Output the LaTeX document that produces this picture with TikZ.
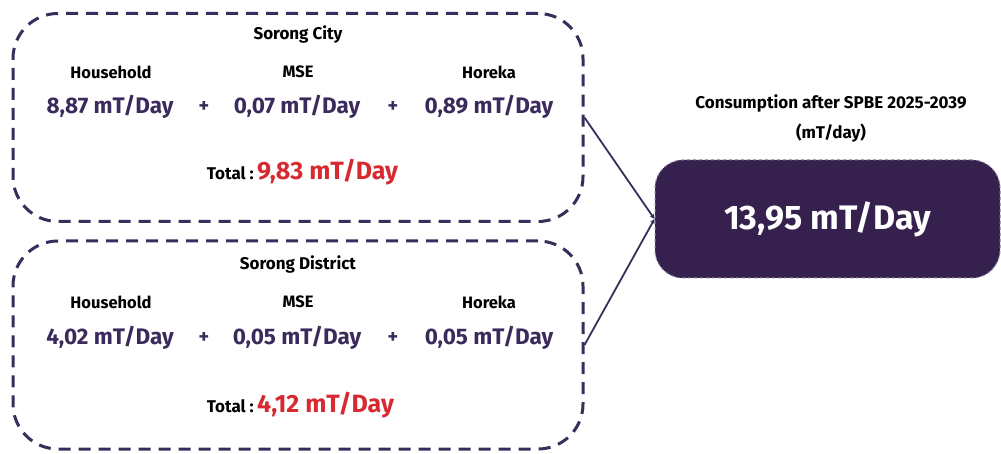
\documentclass[tikz,border=0pt]{standalone}
\usepackage{fontspec}
\setmainfont{Fira Sans}
\usetikzlibrary{arrows.meta}
\definecolor{ink}{HTML}{3B2B5C}
\definecolor{boxline}{HTML}{3A2D5C}
\definecolor{boxfill}{HTML}{35204E}
\definecolor{tot}{HTML}{D62A30}
\begin{document}
\begin{tikzpicture}[x=1pt,y=-1pt,
  group/.style={draw=boxline,line width=3pt,dash pattern=on 12pt off 8pt,rounded corners=45pt,minimum width=570pt,minimum height=208pt,inner sep=0pt},
  title/.style={font=\fontsize{17}{19}\selectfont\bfseries,text=black},
  head/.style={font=\fontsize{16.5}{19}\selectfont\bfseries,text=black},
  val/.style={font=\fontsize{22.5}{26}\selectfont\bfseries,text=ink},
  plus/.style={font=\fontsize{20}{24}\selectfont\bfseries,text=ink},
  totlab/.style={font=\fontsize{17}{19}\selectfont\bfseries,text=black,anchor=base east,inner sep=0pt},
  totval/.style={font=\fontsize{25}{28}\selectfont\bfseries,text=tot,anchor=base west,inner sep=0pt},
  result/.style={fill=boxfill,draw=boxline!60!white,dashed,line width=1pt,rounded corners=28pt,minimum width=345pt,minimum height=118pt,text=white,font=\fontsize{34}{39}\selectfont\bfseries},
  conn/.style={draw=boxline,line width=1.8pt,-{Stealth[length=5pt,width=5pt]}}
]
\useasboundingbox (0,0) rectangle (1001,454);
% top group
\node[group] (city) at (298,117.5) {};
\node[title] (cityt) at (298,34) {Sorong City};
\node[head] (ch1) at (111,72) {Household};
\node[head] (ch2) at (298,72) {MSE};
\node[head] (ch3) at (489,72) {Horeka};
\node[val] (cv1) at (110,107) {8,87 mT/Day};
\node[plus] (cp1) at (204,107) {+};
\node[val] (cv2) at (297,107) {0,07 mT/Day};
\node[plus] (cp2) at (393,107) {+};
\node[val] (cv3) at (489,107) {0,89 mT/Day};
\node[totlab] (ctl) at (254,180) {Total :};
\node[totval] (ctv) at (257,180) {9,83 mT/Day};
% bottom group
\node[group] (dist) at (298,345) {};
\node[title] (distt) at (298,264) {Sorong District};
\node[head] (dh1) at (111,302) {Household};
\node[head] (dh2) at (298,302) {MSE};
\node[head] (dh3) at (489,302) {Horeka};
\node[val] (dv1) at (110,338) {4,02 mT/Day};
\node[plus] (dp1) at (204,338) {+};
\node[val] (dv2) at (297,338) {0,05 mT/Day};
\node[plus] (dp2) at (393,338) {+};
\node[val] (dv3) at (489,338) {0,05 mT/Day};
\node[totlab] (dtl) at (254,412) {Total :};
\node[totval] (dtv) at (257,412) {4,12 mT/Day};
% result
\node[title] (rt1) at (831,103) {Consumption after SPBE 2025-2039};
\node[title] (rt2) at (831,133) {(mT/day)};
\node[result] (res) at (827.5,219) {13,95 mT/Day};
\draw[conn] (city.east) -- (res.west);
\draw[conn] (dist.east) -- (res.west);
\end{tikzpicture}
\end{document}
